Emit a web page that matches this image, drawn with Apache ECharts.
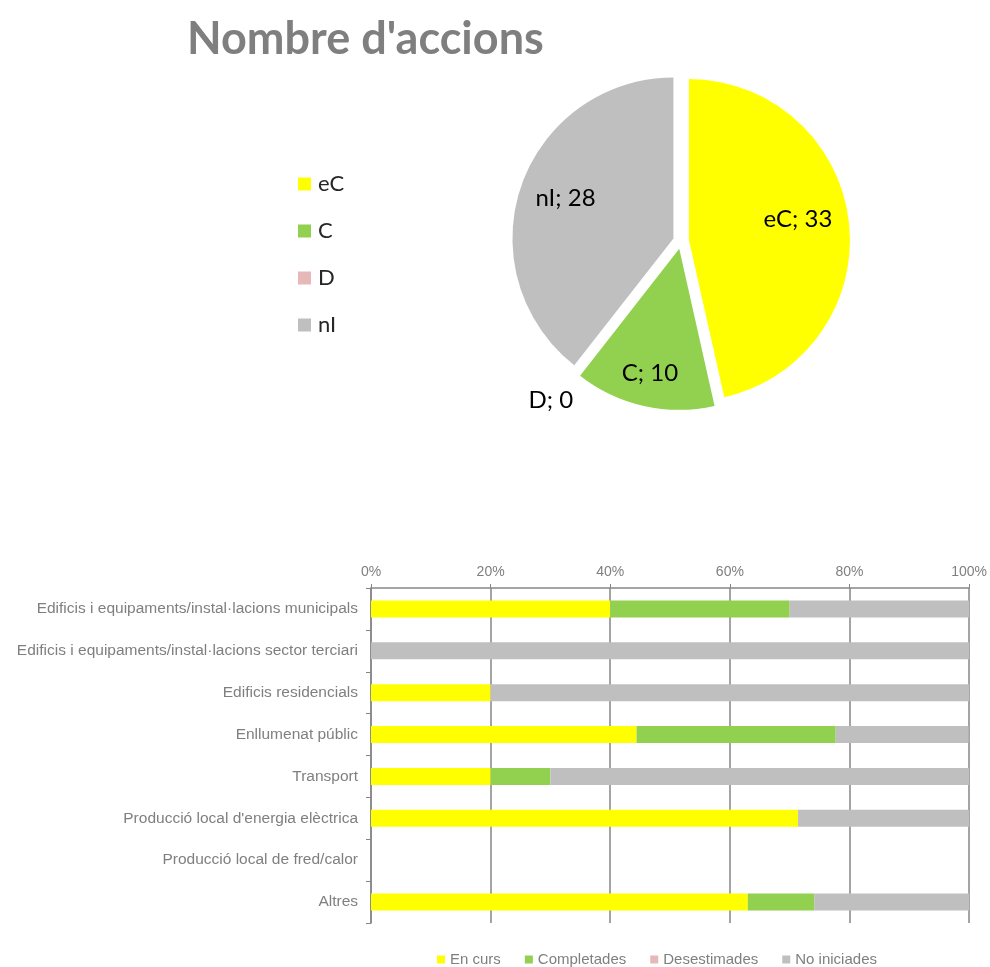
<!DOCTYPE html>
<html>
<head>
<meta charset="utf-8">
<script src="https://cdn.jsdelivr.net/npm/echarts@6/dist/echarts.min.js"></script>
<style>
  html, body { margin: 0; padding: 0; background: #fff; }
  #main { width: 990px; height: 967px; }
</style>
</head>
<body>
<div id="main"></div>
<script>
// pie: number of actions per state
var pieNames = ["eC", "C", "D", "nI"];
var pieValues = [33, 10, 0, 28];

// bar: share of actions per sector (%)
var sectors = [
  "Edificis i equipaments/instal·lacions municipals",
  "Edificis i equipaments/instal·lacions sector terciari",
  "Edificis residencials",
  "Enllumenat públic",
  "Transport",
  "Producció local d'energia elèctrica",
  "Producció local de fred/calor",
  "Altres"
];
var enCurs = [40, 0, 20, 44.4, 20, 71.4, 0, 63.0];
var completades = [30, 0, 0, 33.3, 10, 0, 0, 11.1];
var desestimades = [0, 0, 0, 0, 0, 0, 0, 0];
var noIniciades = [30, 100, 80, 22.2, 70, 28.6, 0, 25.9];
var xTicks = [0, 20, 40, 60, 80, 100];

var colors = ["#ffff00", "#92d050", "#e6b9b8", "#bfbfbf"];

// nudge pie labels the way Excel places them (further out)
var pieLabelShift = [[26, -12], [-11, 43], [5, 21], [-29, -13]];

var myChart = echarts.init(document.getElementById("main"));

var pieData = pieNames.map(function (n, i) {
  var item = { name: n, value: pieValues[i], selected: true, itemStyle: { color: colors[i] } };
  if (n === "D") {
    item.label = { position: "outside" };
    item.labelLine = { show: false, length: 6, length2: 0 };
  }
  return item;
});

var option = {
  animation: false,
  textStyle: { fontFamily: "Liberation Sans" },
  title: {
    text: "Nombre d'accions",
    left: 182,
    top: 12,
    textStyle: { fontFamily: "Lato", fontWeight: "bold", fontSize: 45, color: "#7f7f7f" }
  },
  legend: [
    {
      data: pieNames,
      orient: "vertical",
      left: 293,
      top: 168,
      icon: "rect",
      itemWidth: 13,
      itemHeight: 13,
      itemGap: 25,
      selectedMode: false,
      textStyle: { fontFamily: "Lato", fontSize: 22, color: "#262626", padding: [0, 0, 0, 2] }
    },
    {
      data: ["En curs", "Completades", "Desestimades", "No iniciades"],
      left: 432,
      top: 947,
      icon: "rect",
      itemWidth: 8,
      itemHeight: 8,
      itemGap: 24,
      selectedMode: false,
      textStyle: { fontSize: 15, color: "#7f7f7f" }
    }
  ],
  grid: { left: 371, right: 20, top: 588, height: 335 },
  xAxis: {
    type: "value",
    position: "top",
    min: 0,
    max: 100,
    interval: 20,
    axisLine: { show: true, lineStyle: { color: "#868686", width: 1.5 } },
    axisTick: { show: true, length: 4, lineStyle: { color: "#868686" } },
    splitLine: { show: true, lineStyle: { color: "#868686", width: 1.5 } },
    axisLabel: {
      margin: 9,
      fontSize: 14,
      color: "#7f7f7f",
      formatter: function (v) { return xTicks.indexOf(v) >= 0 ? v + "%" : ""; }
    }
  },
  yAxis: {
    type: "category",
    data: sectors,
    inverse: true,
    axisLine: { show: true, lineStyle: { color: "#868686", width: 1.5 } },
    axisTick: { show: true, length: 5, lineStyle: { color: "#868686" } },
    axisLabel: { margin: 13, fontSize: 15.5, color: "#7f7f7f" }
  },
  series: [
    {
      type: "pie",
      center: [681, 241],
      radius: 161,
      startAngle: 90,
      selectedMode: "multiple",
      selectedOffset: 8,
      silent: true,
      legendHoverLink: false,
      label: {
        show: true,
        position: "inside",
        formatter: "{b}; {c}",
        fontFamily: "Lato",
        fontSize: 24,
        color: "#000"
      },
      labelLine: { show: false },
      labelLayout: function (p) {
        var s = pieLabelShift[p.dataIndex];
        return { dx: s[0], dy: s[1] };
      },
      itemStyle: { borderWidth: 0 },
      data: pieData
    },
    { name: "En curs", type: "bar", stack: "t", barWidth: 17, itemStyle: { color: colors[0] }, data: enCurs },
    { name: "Completades", type: "bar", stack: "t", barWidth: 17, itemStyle: { color: colors[1] }, data: completades },
    { name: "Desestimades", type: "bar", stack: "t", barWidth: 17, itemStyle: { color: colors[2] }, data: desestimades },
    { name: "No iniciades", type: "bar", stack: "t", barWidth: 17, itemStyle: { color: colors[3] }, data: noIniciades }
  ]
};

myChart.setOption(option);
</script>
</body>
</html>
